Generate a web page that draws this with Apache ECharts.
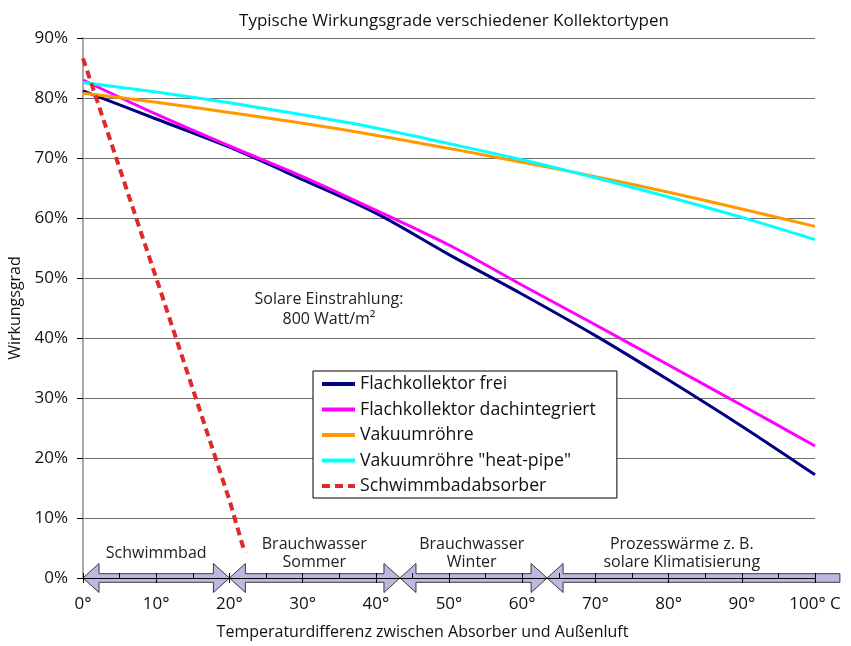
<!DOCTYPE html>
<html><head><meta charset="utf-8">
<script src="https://cdn.jsdelivr.net/npm/echarts@6/dist/echarts.min.js"></script>
<style>html,body{margin:0;padding:0;background:#fff}#c{width:851px;height:646px}</style>
</head><body><div id="c"></div>
<script>
const temps = [0,10,20,30,40,50,60,70,80,90,100];
const flachFrei = [81.2,76.5,71.8,66.4,60.8,53.9,47.3,40.4,33.0,25.3,17.2];
const flachDach = [83.0,77.3,72.0,66.9,61.3,55.5,48.8,42.2,35.5,28.8,22.0];
const vakuum   = [80.8,79.3,77.6,75.8,73.8,71.6,69.3,66.9,64.3,61.5,58.6];
const heatPipe = [82.6,81.0,79.2,77.2,75.0,72.4,69.7,66.7,63.5,60.1,56.4];
const poolTemps = [0,10,20,22.1];
const pool = [86.6,50.0,13.0,4.2];
const seriesNames = ['Flachkollektor frei','Flachkollektor dachintegriert','Vakuumröhre','Vakuumröhre "heat-pipe"','Schwimmbadabsorber'];
const xTickLabels = ['0°','10°','20°','30°','40°','50°','60°','70°','80°','90°','100° C'];
const regionBounds = [0,20,43.3,63.4,103.4];
const regionRightHead = [1,1,1,0];
const regionLabels = ['Schwimmbad','Brauchwasser\nSommer','Brauchwasser\nWinter','Prozesswärme z. B.\nsolare Klimatisierung'];
const regionCenters = [10,31.6,53.1,81.8];
const noteText = 'Solare Einstrahlung:\n800 Watt/m²';
const notePos = [33.6,44.7];

const FONT = 'Open Sans';
const pair = (xs, ys) => xs.map((x,i) => [x, ys[i]]);
const colors = ['#000080','#ff00ff','#ff9900','#00ffff','#dd2a2a'];
const curves = [flachFrei, flachDach, vakuum, heatPipe];

const arrowData = regionBounds.slice(0,-1).map((b,i) => [b, regionBounds[i+1], 1, regionRightHead[i]]);

function renderArrow(params, api) {
  const s = api.value(0), e = api.value(1), rh = api.value(3);
  const p0 = api.coord([s, 0]), p1 = api.coord([e, 0]);
  const y = p0[1], H = 14.5, h = 4.3, L = 16;
  const pts = [[p0[0], y],[p0[0]+L, y-H],[p0[0]+L, y-h]];
  if (rh) pts.push([p1[0]-L, y-h],[p1[0]-L, y-H],[p1[0], y],[p1[0]-L, y+H],[p1[0]-L, y+h]);
  else pts.push([p1[0], y-h],[p1[0], y+h]);
  pts.push([p0[0]+L, y+h],[p0[0]+L, y+H]);
  return {type:'polygon', shape:{points:pts}, style:{fill:'#bcb8e2', stroke:'#3a3a3a', lineWidth:1}};
}
function renderRegionText(params, api) {
  const p = api.coord([api.value(0), 0]);
  return {type:'text', x:p[0], y:p[1]-25, style:{text:regionLabels[params.dataIndex], align:'center', verticalAlign:'middle',
    fontFamily:FONT, fontSize:16, lineHeight:18, fill:'#222'}};
}
function renderNote(params, api) {
  const p = api.coord([api.value(0), api.value(1)]);
  return {type:'text', x:p[0], y:p[1], style:{text:noteText, align:'center', verticalAlign:'middle',
    fontFamily:FONT, fontSize:16, lineHeight:20, fill:'#222'}};
}

const series = curves.map((d,i) => ({
  name: seriesNames[i], type:'line', data: pair(temps, d), smooth:0.35, symbol:'none',
  lineStyle:{color:colors[i], width:3}, itemStyle:{color:colors[i]}, z:3
}));
series.push({name: seriesNames[4], type:'line', data: pair(poolTemps, pool), symbol:'none',
  lineStyle:{color:colors[4], width:4, type:[8,5]}, itemStyle:{color:colors[4]}, z:4});
series.push({type:'custom', renderItem: renderArrow, data: arrowData, clip:false, z:-1, silent:true});
series.push({type:'custom', renderItem: renderRegionText, data: regionCenters.map(c=>[c]), clip:false, z:5, silent:true});
series.push({type:'custom', renderItem: renderNote, data: [notePos], clip:false, z:5, silent:true});

const chart = echarts.init(document.getElementById('c'));
chart.setOption({
  animation:false,
  backgroundColor:'#fff',
  textStyle:{fontFamily:FONT},
  title:{text:'Typische Wirkungsgrade verschiedener Kollektortypen', left:449, textAlign:'center', top:8,
    textStyle:{fontFamily:FONT, fontSize:17, fontWeight:'normal', color:'#111'}},
  grid:{left:83, right:36, top:38, bottom:68, outerBoundsMode:'none', containLabel:false},
  legend:{orient:'vertical', left:313, top:371, data:seriesNames, itemWidth:33, itemHeight:15, itemGap:7.5,
    padding:[4,21,3,7], backgroundColor:'#fff', borderColor:'#000', borderWidth:1, borderRadius:0,
    itemStyle:{opacity:0}, lineStyle:{width:4},
    textStyle:{fontFamily:FONT, fontSize:17.7, color:'#111', lineHeight:18}},
  xAxis:[{type:'value', min:0, max:100, interval:10, position:'bottom',
    name:'Temperaturdifferenz zwischen Absorber und Außenluft', nameLocation:'middle', nameGap:46,
    nameTextStyle:{fontFamily:FONT, fontSize:16, color:'#111', padding:[0,53,0,0]},
    axisLine:{lineStyle:{color:'#000', width:1}}, axisTick:{show:true, length:5, lineStyle:{color:'#000'}},
    axisLabel:{formatter:(v)=>xTickLabels[Math.round(v/10)], margin:18, fontFamily:FONT, fontSize:17, color:'#111'},
    splitLine:{show:false}},
   {type:'value', min:0, max:100, interval:10, position:'bottom', offset:0,
    axisLine:{show:false}, axisTick:{show:true, inside:true, length:5, lineStyle:{color:'#000'}},
    minorTick:{show:true, splitNumber:2, length:5, lineStyle:{color:'#000'}},
    axisLabel:{show:false}, splitLine:{show:false}}],
  yAxis:[{type:'value', min:0, max:90, interval:10,
    name:'Wirkungsgrad', nameLocation:'middle', nameGap:58, nameRotate:90,
    nameTextStyle:{fontFamily:FONT, fontSize:16, color:'#111'},
    axisLine:{show:true, lineStyle:{color:'#000', width:1}}, axisTick:{show:true, length:6, lineStyle:{color:'#000'}},
    axisLabel:{formatter:'{value}%', margin:15, fontFamily:FONT, fontSize:17, color:'#111'},
    splitLine:{show:true, lineStyle:{color:'#707070', width:1}}},
   {type:'value', min:0, max:90, interval:10, position:'right',
    axisLine:{show:true, lineStyle:{color:'#aaaaaa', width:2}}, axisTick:{show:false}, axisLabel:{show:false}, splitLine:{show:false}}],
  series: series
});
</script></body></html>
